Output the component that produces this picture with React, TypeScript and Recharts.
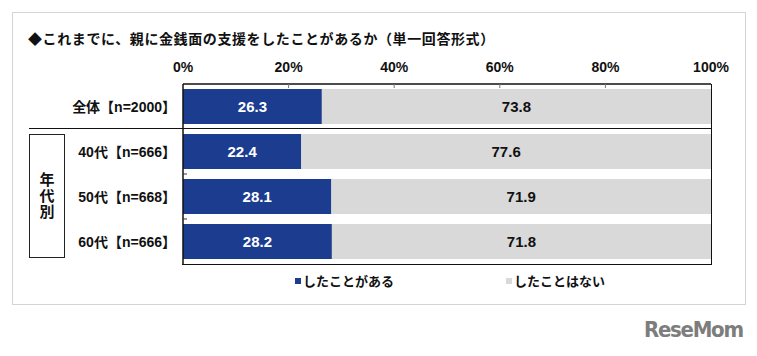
import { Bar, BarChart, LabelList, XAxis, YAxis } from "recharts";

const categories = ["全体【n=2000】", "40代【n=666】", "50代【n=668】", "60代【n=666】"];
const hasDone = [26.3, 22.4, 28.1, 28.2];
const notDone = [73.8, 77.6, 71.9, 71.8];
const pctTicks = [0, 20, 40, 60, 80, 100];
const seriesNames = ["したことがある", "したことはない"];

const BLUE = "#1c3d8f";
const GRAY = "#d9d9d9";
const JP = "'Noto Sans CJK JP', sans-serif";
const MIX = "'Liberation Sans', 'Noto Sans CJK JP', sans-serif";

const rows = categories.map((name, i) => ({
  name,
  yes: hasDone[i],
  no: notDone[i],
}));

// top axis label + small inward tick
function TopTick({ x, y, payload }: any) {
  const v = payload.value;
  return (
    <g>
      <text x={x} y={y - 2} textAnchor="middle" fontSize={14} fontWeight="bold" fill="#111" fontFamily={MIX}>
        {v}%
      </text>
      {v !== 0 && v !== 100 && (
        <line x1={x} x2={x} y1={y + 10} y2={y + 14} stroke="#777" strokeWidth={1} />
      )}
    </g>
  );
}

// category label; inner tick marks between the age rows
function CatTick({ x, y, payload, index }: any) {
  const axisX = x + 11;
  return (
    <g>
      <text x={x + 4} y={y} textAnchor="end" dominantBaseline="central" fontSize={14} fontWeight="bold" fill="#111" fontFamily={MIX}>
        {payload.value}
      </text>
      {index > 0 && index < categories.length - 1 && (
        <line x1={axisX} x2={axisX + 4} y1={y + 22.5} y2={y + 22.5} stroke="#333" strokeWidth={1} />
      )}
    </g>
  );
}

export default function App() {
  return (
    <div style={{ position: "absolute", left: 0, top: 0, width: 757, height: 356, background: "#fff" }}>
      {/* outer frame */}
      <div
        style={{
          position: "absolute",
          left: 12,
          top: 12,
          width: 734,
          height: 293,
          border: "1px solid #d4d4d4",
          boxSizing: "border-box",
        }}
      />
      <div
        style={{
          position: "absolute",
          left: 28,
          top: 28,
          fontFamily: JP,
          fontWeight: "bold",
          fontSize: 14,
          letterSpacing: 0.6,
          lineHeight: "20px",
          color: "#111",
          whiteSpace: "nowrap",
        }}
      >
        ◆これまでに、親に金銭面の支援をしたことがあるか（単一回答形式）
      </div>

      <div style={{ position: "absolute", left: 0, top: 0 }}>
        <BarChart
          width={757}
          height={356}
          layout="vertical"
          data={rows}
          margin={{ top: 54, right: 46, bottom: 92, left: 23 }}
          barSize={35}
        >
          <XAxis
            xAxisId="top"
            type="number"
            orientation="top"
            domain={[0, 100]}
            allowDataOverflow
            ticks={pctTicks}
            height={30}
            tickSize={0}
            tickMargin={10}
            tickLine={false}
            axisLine={{ stroke: "#111", strokeWidth: 1.5 }}
            tick={<TopTick />}
          />
          <YAxis
            yAxisId="left"
            type="category"
            dataKey="name"
            width={160}
            tickSize={0}
            tickMargin={11}
            tickLine={false}
            axisLine={{ stroke: "#111", strokeWidth: 1.5 }}
            tick={<CatTick />}
            interval={0}
          />
          <Bar dataKey="yes" stackId="a" fill={BLUE} xAxisId="top" yAxisId="left" isAnimationActive={false}>
            <LabelList
              dataKey="yes"
              position="center"
              fill="#fff"
              fontSize={15}
              fontWeight="bold"
              fontFamily={MIX}
              formatter={(v: any) => Number(v).toFixed(1)}
            />
          </Bar>
          <Bar dataKey="no" stackId="a" fill={GRAY} xAxisId="top" yAxisId="left" isAnimationActive={false}>
            <LabelList
              dataKey="no"
              position="center"
              fill="#111"
              fontSize={15}
              fontWeight="bold"
              fontFamily={MIX}
              formatter={(v: any) => Number(v).toFixed(1)}
            />
          </Bar>
        </BarChart>
      </div>

      {/* plot frame: right and bottom edges */}
      <div
        style={{
          position: "absolute",
          left: 182,
          top: 83.5,
          width: 529.5,
          height: 181,
          borderRight: "1.5px solid #111",
          borderBottom: "1.5px solid #111",
          boxSizing: "border-box",
        }}
      />

      {/* separator between total and age groups */}
      <div style={{ position: "absolute", left: 29, top: 127.5, width: 682, height: 1.5, background: "#111" }} />

      {/* age-group bracket */}
      <div
        style={{
          position: "absolute",
          left: 29,
          top: 134,
          width: 36,
          height: 124,
          border: "1px solid #222",
          boxSizing: "border-box",
          display: "flex",
          alignItems: "center",
          justifyContent: "center",
        }}
      >
        <div
          style={{
            writingMode: "vertical-rl",
            fontFamily: JP,
            fontWeight: "bold",
            fontSize: 15,
            lineHeight: 1,
            letterSpacing: 1,
            color: "#111",
          }}
        >
          年代別
        </div>
      </div>

      {/* legend */}
      {seriesNames.map((s, i) => (
        <div
          key={s}
          style={{
            position: "absolute",
            left: i === 0 ? 295 : 506,
            top: 272,
            display: "flex",
            alignItems: "center",
            fontFamily: JP,
            fontWeight: "bold",
            fontSize: 13,
            lineHeight: "18px",
            color: "#111",
            whiteSpace: "nowrap",
          }}
        >
          <span style={{ width: 6, height: 6, background: i === 0 ? BLUE : GRAY, marginRight: 2, display: "inline-block" }} />
          {s}
        </div>
      ))}

      {/* watermark */}
      <div
        style={{
          position: "absolute",
          left: 644,
          top: 317,
          fontFamily: "'DejaVu Sans Condensed', 'DejaVu Sans', sans-serif",
          fontWeight: "bold",
          fontSize: 22,
          lineHeight: "26px",
          color: "#7d7d7d",
          letterSpacing: -1.3,
        }}
      >
        ReseMom
      </div>
    </div>
  );
}
